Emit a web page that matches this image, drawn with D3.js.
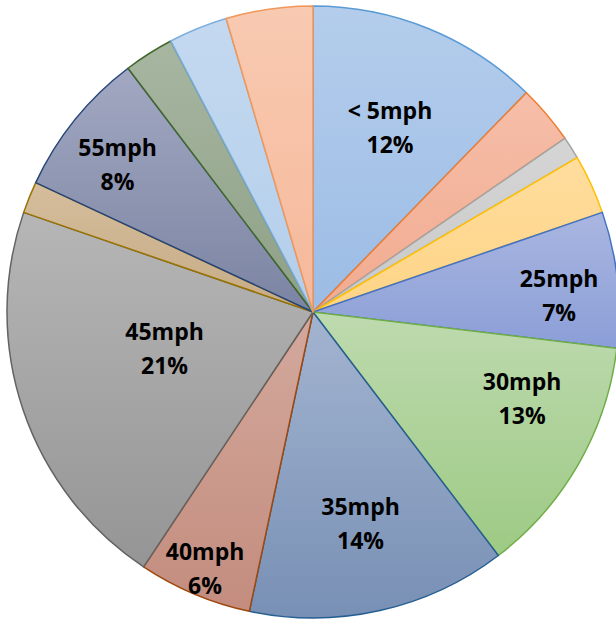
<!DOCTYPE html>
<html>
<head>
<meta charset="utf-8">
<script src="https://cdn.jsdelivr.net/npm/d3@7"></script>
<style>
  html, body { margin: 0; padding: 0; background: #fff; }
  svg { display: block; }
  .lbl { font-family: "Open Sans", sans-serif; font-weight: 700; font-size: 23px; fill: #000; }
</style>
</head>
<body>
<div id="container"></div>
<script>
const width = 616, height = 620;

// DATA
const categories = ["< 5mph", "10mph", "15mph", "20mph", "25mph", "30mph", "35mph",
                    "40mph", "45mph", "50mph", "55mph", "60mph", "65mph", "70mph"];
const shares = [12.28, 3.11, 1.19, 3.14, 7.17, 12.75, 13.69, 6.0, 20.94, 1.67, 7.72, 2.64, 3.11, 4.58];
const labelled = ["< 5mph", "25mph", "30mph", "35mph", "40mph", "45mph", "55mph"];

// STYLE (office palette, gradient top -> bottom, outline)
const fillTop    = ["#b4cdec", "#f6bea9", "#d5d5d5", "#ffdd9e", "#a9b6e0", "#bedaaf", "#a3b4d0",
                    "#d3a99d", "#b6b6b6", "#d5bd9c", "#a2a8c2", "#a7b6a1", "#c4d9f0", "#f8cab1"];
const fillBottom = ["#9cbce5", "#f1ab90", "#c9c9c9", "#fed486", "#8b9ed7", "#9dca84", "#7890b5",
                    "#c38c7e", "#959595", "#c6ab85", "#7b84a2", "#8ea086", "#b3ceeb", "#f6b89b"];
const strokes    = ["#5b9bd5", "#ed7d31", "#a5a5a5", "#ffc000", "#4472c4", "#70ad47", "#255e91",
                    "#9e480e", "#636363", "#997300", "#264478", "#43682b", "#7cafdd", "#f1975a"];

// label placement: fraction of radius, angle nudge in degrees
const labelPlace = {
  "< 5mph": [0.652, 0.6],
  "25mph": [0.806, 2.4],
  "30mph": [0.74, -7.2],
  "35mph": [0.71, 0],
  "40mph": [0.91, 0],
  "45mph": [0.50, 4.7],
  "55mph": [0.80, -1.9]
};

const cx = 313, cy = 312, radius = 306;

let svg = d3.select("#container").append("svg")
  .attr("width", width)
  .attr("height", height);

let colorTop = d3.scaleOrdinal().domain(categories).range(fillTop);
let colorBottom = d3.scaleOrdinal().domain(categories).range(fillBottom);
let colorStroke = d3.scaleOrdinal().domain(categories).range(strokes);

let total = d3.sum(shares);
let pct = d3.format(".0%");

let rows = categories.map((c, i) => ({ name: c, value: shares[i] }));

let pie = d3.pie().sort(null).value(d => d.value);
let arc = d3.arc().innerRadius(0).outerRadius(radius);

// gradients
let grad = svg.append("defs")
  .selectAll("linearGradient")
  .data(categories)
  .enter()
  .append("linearGradient")
  .attr("id", (d, i) => "g" + i)
  .attr("x1", 0).attr("y1", 0).attr("x2", 0).attr("y2", 1);

grad.append("stop").attr("offset", "0%").attr("stop-color", d => colorTop(d));
grad.append("stop").attr("offset", "100%").attr("stop-color", d => colorBottom(d));

let g = svg.append("g").attr("transform", `translate(${cx},${cy})`);

let arcs = pie(rows);

g.selectAll("path.slice")
  .data(arcs)
  .enter()
  .append("path")
  .attr("class", "slice")
  .attr("d", arc)
  .attr("fill", (d, i) => `url(#g${i})`)
  .attr("stroke", d => colorStroke(d.data.name))
  .attr("stroke-width", 1.5)
  .attr("stroke-linejoin", "round");

// labels
let lbl = g.selectAll("text.lbl")
  .data(arcs.filter(d => labelled.indexOf(d.data.name) != -1))
  .enter()
  .append("text")
  .attr("class", "lbl")
  .attr("text-anchor", "middle")
  .attr("transform", d => {
    let p = labelPlace[d.data.name];
    let a = (d.startAngle + d.endAngle) / 2 + p[1] * Math.PI / 180;
    let r = radius * p[0];
    return `translate(${r * Math.sin(a)},${-r * Math.cos(a)})`;
  });

lbl.append("tspan")
  .attr("x", 0)
  .attr("y", -9)
  .text(d => d.data.name);

lbl.append("tspan")
  .attr("x", 0)
  .attr("y", 25)
  .text(d => pct(d.data.value / total));
</script>
</body>
</html>
